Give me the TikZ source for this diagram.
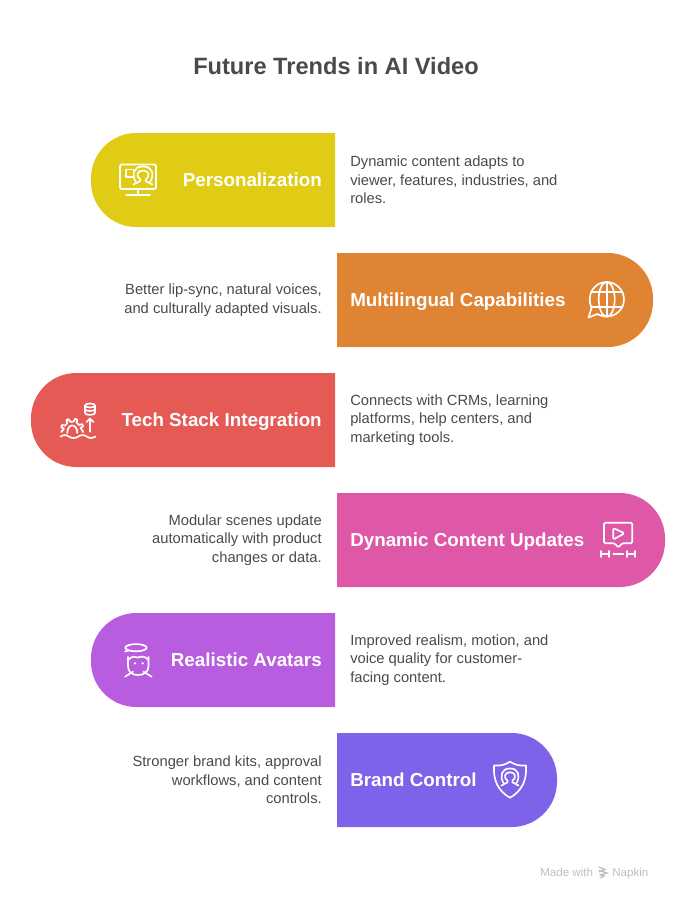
\documentclass[tikz,border=0pt]{standalone}
\usepackage{fontspec}
\setmainfont{Liberation Sans}
\usetikzlibrary{positioning}
\definecolor{trendyellow}{RGB}{224, 204, 20}
\definecolor{trendorange}{RGB}{223, 132, 50}
\definecolor{trendred}{RGB}{230, 90, 85}
\definecolor{trendpink}{RGB}{223, 88, 168}
\definecolor{trendpurple}{RGB}{184, 92, 224}
\definecolor{trendviolet}{RGB}{126, 98, 234}
\definecolor{bodygray}{RGB}{74, 74, 74}
\definecolor{footgray}{RGB}{190, 190, 190}
\newcommand{\personglyph}{%
  (-7,6) .. controls (-11,-1) and (-9,-9) .. (0,-9) .. controls (9,-9) and (11,-1) .. (7,6)
  (-2.5,4) .. controls (-7,1) and (-6,-5) .. (0,-5) .. controls (6,-5) and (7,1) .. (2.5,4)
  (-2.5,4) -- (-2.5,5.5) -- (-9,9) (2.5,4) -- (2.5,5.5) -- (9,9)}

\begin{document}
\begin{tikzpicture}[
  x=0.75pt, y=-0.75pt,
  title/.style    = {font=\fontsize{17.7}{21}\selectfont\bfseries, text=bodygray, inner sep=0pt},
  barlabel/.style = {font=\fontsize{14.1}{17}\selectfont\bfseries, text=white, inner sep=0pt},
  desc/.style     = {font=\fontsize{11.05}{13.9}\selectfont, text=bodygray, inner sep=0pt},
  descl/.style    = {desc, anchor=west, align=left},
  descr/.style    = {desc, anchor=east, align=right},
  foot/.style     = {font=\fontsize{8.7}{10}\selectfont, text=footgray, inner sep=0pt},
  icon/.style     = {draw=white, line width=1.25pt, line join=round, line cap=round},
  bigr/.style     = {rounded corners=34pt}
]
\useasboundingbox (0,0) rectangle (672,900);

\node[title] (heading) at (336,66) {Future Trends in AI Video};

% bars
\fill[trendyellow] (335,133) [bigr] -- (91,133) -- (91,227) [sharp corners] -- (335,227) -- cycle;
\fill[trendorange] (337,253) [bigr] -- (653,253) -- (653,347) [sharp corners] -- (337,347) -- cycle;
\fill[trendred]    (335,373) [bigr] -- (31,373) -- (31,467) [sharp corners] -- (335,467) -- cycle;
\fill[trendpink]   (337,493) [bigr] -- (665,493) -- (665,587) [sharp corners] -- (337,587) -- cycle;
\fill[trendpurple] (335,613) [bigr] -- (91,613) -- (91,707) [sharp corners] -- (335,707) -- cycle;
\fill[trendviolet] (337,733) [bigr] -- (557,733) -- (557,827) [sharp corners] -- (337,827) -- cycle;

% bar labels
\node[barlabel, anchor=base east] (pers)  at (322,186.7) {Personalization};
\node[barlabel, anchor=base west] (multi) at (350,306.7) {Multilingual Capabilities};
\node[barlabel, anchor=base east] (tech)  at (322,426.7) {Tech Stack Integration};
\node[barlabel, anchor=base west] (dyna)  at (350,546.7) {Dynamic Content Updates};
\node[barlabel, anchor=base east] (avat)  at (322,666.7) {Realistic Avatars};
\node[barlabel, anchor=base west] (brand) at (350,786.7) {Brand Control};

% descriptions
\node[descl] (persd)  at (350,180) {Dynamic content adapts to\\viewer, features, industries, and\\roles.};
\node[descr] (multid) at (322,300) {Better lip-sync, natural voices,\\and culturally adapted visuals.};
\node[descl] (techd)  at (350,420) {Connects with CRMs, learning\\platforms, help centers, and\\marketing tools.};
\node[descr] (dynad)  at (322,540) {Modular scenes update\\automatically with product\\changes or data.};
\node[descl] (avatd)  at (350,660) {Improved realism, motion, and\\voice quality for customer-\\facing content.};
\node[descr] (brandd) at (322,780) {Stronger brand kits, approval\\workflows, and content\\controls.};

% monitor icon
\draw[icon, rounded corners=1pt] (120,164.5) rectangle (156,189);
\draw[icon] (138,189) -- (138,195) (126,195) -- (150,195);
\draw[icon] (126,169.5) rectangle (133.5,177);
\begin{scope}[shift={(143,175.5)}, yscale=1, xscale=1.05]
  \draw[icon] \personglyph;
\end{scope}

% globe icon
\draw[icon] (591.5,308) .. controls (586,295) and (594,282) .. (606.7,282)
  .. controls (616,282) and (624,290) .. (624,299.3)
  .. controls (624,309) and (616,316.6) .. (606.7,316.6)
  .. controls (603,316.6) and (600,315.5) .. (597.5,314)
  -- (588.5,317.5) -- (591.5,308);
\draw[icon] (606.7,299.3) ellipse (8 and 17.3);
\draw[icon] (606.7,282) -- (606.7,316.6);
\draw[icon] (591,291.7) -- (622.5,291.7) (591,306.7) -- (622.5,306.7);

% stack icon
\begin{scope}[shift={(72.3,430)}]
  \draw[icon] (-11,2) \foreach \a in {200,245,290,335} { -- (\a-11:8.5) -- (\a-6:11.5) -- (\a+6:11.5) -- (\a+11:8.5) } -- (11,2);
  \draw[icon] (-5,3) .. controls (-5,-7) and (5,-7) .. (5,3);
\end{scope}
\draw[icon] (60.5,436.7) .. controls (64,434.5) and (66,434.5) .. (69,436.7)
  .. controls (72,438.5) and (75,438.5) .. (78,436.7)
  .. controls (81,434.5) and (84,434.5) .. (87,436.7)
  .. controls (90,438.5) and (93,438.5) .. (95.5,436.7);
\draw[icon] (85,405.5) -- (85,413) .. controls (85,415.5) and (95,415.5) .. (95,413) -- (95,405.5);
\draw[icon] (90,405.5) ellipse (5 and 2);
\draw[icon] (85,409.3) .. controls (85,411.5) and (95,411.5) .. (95,409.3);
\draw[icon] (90,431.7) -- (90,418.5) (86.5,422) -- (90,418.5) -- (93.5,422);

% video icon
\draw[icon, rounded corners=1pt] (604,522.7) -- (632.3,522.7) -- (632.3,543.3) -- (622,543.3) -- (618.3,547.5) -- (614.6,543.3) -- (604,543.3) -- cycle;
\draw[icon, rounded corners=1pt] (613.3,528) -- (624.5,533.3) -- (613.3,539.5) -- cycle;
\draw[icon] (600.7,554) -- (609.3,554) (613.3,554) -- (623.3,554) (626.7,554) -- (635,554);
\draw[icon] (600.7,551) -- (600.7,557) (609.3,551) -- (609.3,557) (626.7,551) -- (626.7,557) (635,551) -- (635,557);

% avatar icon
\draw[icon] (136,647.7) ellipse (10.7 and 3.6);
\draw[icon] (129,650.5) -- (125,651.5);
\draw[icon] (128,657) -- (128,666) .. controls (128,672) and (132,675) .. (138,675)
  .. controls (144,675) and (148.5,672) .. (148.5,666) -- (148.5,657);
\draw[icon] (128,660) .. controls (132,656) and (135,656) .. (138,657.5);
\draw[icon] (138,657.5) .. controls (142,656) and (145,656) .. (148.5,660);
\fill[white] (135,663.3) circle (1.3) (142.7,663.3) circle (1.3);
\draw[icon] (125,676.7) -- (133,671.7) (151.7,676.7) -- (143.5,671.7);

% shield icon
\draw[icon] (510,761.7) .. controls (515,765) and (520,766) .. (526,765.5)
  .. controls (527,780) and (522,791) .. (510,797.7)
  .. controls (498,791) and (493,780) .. (494,765.5)
  .. controls (500,766) and (505,765) .. (510,761.7);
\begin{scope}[shift={(510,777)}, scale=0.95]
  \draw[icon] \personglyph;
\end{scope}

% footer
\node[foot, anchor=base west] (made) at (540,876.5) {Made with};
\node[foot, anchor=base west] (napkin) at (612,876.5) {Napkin};
\draw[footgray, line width=1pt] (599,867) -- (605,869.5) -- (599,872) (599,870.5) -- (607,873) -- (599.5,875.5) (600,874.5) -- (604,876) -- (600.5,878);
\end{tikzpicture}
\end{document}
